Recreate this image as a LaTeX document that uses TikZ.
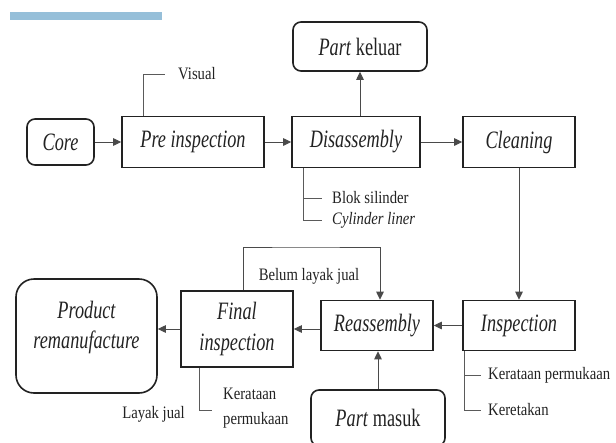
\documentclass[tikz,border=0pt]{standalone}
\usepackage{fontspec}
\setmainfont{Liberation Serif}[FakeStretch=0.73]
\newfontfamily\smallserif{Liberation Serif}[FakeStretch=0.84]
\usetikzlibrary{arrows.meta,calc}
\definecolor{ink}{HTML}{222222}
\definecolor{conn}{HTML}{4A4A4A}
\definecolor{annc}{HTML}{5A5A5A}
\definecolor{barblue}{HTML}{96BFD9}
\begin{document}
\begin{tikzpicture}[x=1pt,y=-1pt,
  box/.style={draw=ink,line width=1.6pt,text=ink,align=center,inner sep=0pt,
    font=\fontsize{25}{30.5}\selectfont\itshape},
  rbox/.style={box,rounded corners=8pt},
  arr/.style={draw=conn,line width=1pt,-{Triangle[length=8pt,width=7.5pt]}},
  ann/.style={draw=annc,line width=0.9pt},
  lbl/.style={text=ink,inner sep=0pt,font=\smallserif\fontsize{17.5}{21}\selectfont}]
\useasboundingbox (0,0) rectangle (616,442);
\fill[barblue] (10,12) rectangle (162,20);
% nodes
\node[rbox,minimum width=67pt,minimum height=46pt] (core) at (60.5,142) {Core};
\node[box,minimum width=142pt,minimum height=51pt] (pre) at (193,142) {Pre inspection};
\node[box,minimum width=128pt,minimum height=51pt] (dis) at (356,142) {Disassembly};
\node[box,minimum width=112pt,minimum height=51pt] (clean) at (519,142) {Cleaning};
\node[rbox,minimum width=134pt,minimum height=49pt,font=\fontsize{25}{30}\selectfont] (keluar) at (360,46.5) {\textit{Part} keluar};
\node[box,minimum width=112pt,minimum height=50pt] (insp) at (519,325.5) {Inspection};
\node[box,minimum width=112pt,minimum height=50pt] (reas) at (377,325.5) {Reassembly};
\node[rbox,minimum width=134pt,minimum height=56pt,font=\fontsize{25}{30}\selectfont] (masuk) at (378,418) {\textit{Part} masuk};
\node[box,minimum width=112pt,minimum height=76pt] (final) at (237,329) {Final\\inspection};
\node[box,rounded corners=18pt,minimum width=141pt,minimum height=114pt] (prod) at (86.5,336) {};
\node[box,draw=none] (prodtxt) at (86.5,327.5) {Product\\remanufacture};
% labels
\node[lbl,anchor=west] (vis) at (178,74) {Visual};
\node[lbl,anchor=west] (blok) at (332,198) {Blok silinder};
\node[lbl,anchor=west] (cyl) at (332,220) {\itshape Cylinder liner};
\node[lbl,anchor=west] (ker) at (488,375) {Kerataan permukaan};
\node[lbl,anchor=west] (ret) at (488,410) {Keretakan};
\node[lbl,anchor=west] (ker1) at (223,394) {Kerataan};
\node[lbl,anchor=west] (ker2) at (223,420) {permukaan};
\node[lbl] (layak) at (153.5,414) {Layak jual};
\node[lbl] (belum) at (309,276) {Belum layak jual};
\coordinate (loop) at (300,247);
% connectors
\draw[arr] (core.east) -- (pre.west);
\draw[arr] (pre.east) -- (dis.west);
\draw[arr] (dis.east) -- (clean.west);
\draw[arr] (keluar.south |- dis.north) -- (keluar.south);
\draw[arr] (clean.south) -- (insp.north);
\draw[arr] (insp.west) -- (reas.east);
\draw[arr] (reas.west |- final.east) -- (final.east);
\draw[arr] (final.west) -- (final.west -| prod.east);
\draw[arr] (masuk.north) -- (masuk.north |- reas.south);
\draw[arr] ([xshift=6pt]final.north) |- (loop) -| ([xshift=3pt]reas.north);
% annotations
\draw[ann] ([xshift=-50pt]pre.north) |- ([xshift=-13pt]vis.west);
\draw[ann] ([xshift=12pt]dis.south west) |- ([xshift=-10pt]blok.west);
\draw[ann] ([xshift=12pt]dis.south west) |- ([xshift=-10pt]cyl.west);
\draw[ann] ([xshift=2pt]insp.south west) |- ([xshift=-7pt]ker.west);
\draw[ann] ([xshift=2pt]insp.south west) |- ([xshift=-7pt]ret.west);
\draw[ann] ([xshift=19pt]final.south west) |- ([xshift=-11pt]$(ker1.west)!0.62!(ker2.west)$);
\end{tikzpicture}
\end{document}
